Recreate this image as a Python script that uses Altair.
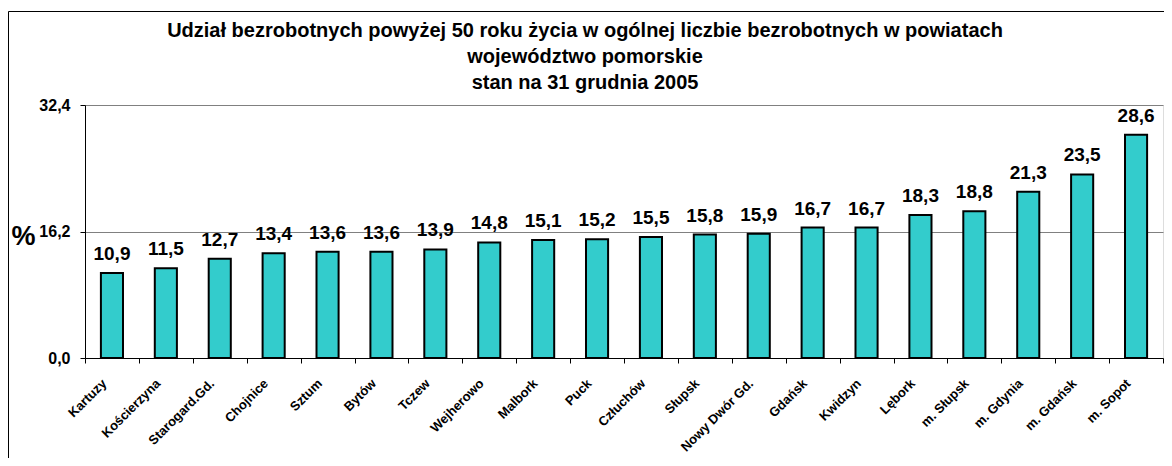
import altair as alt
import pandas as pd

categories = ["Kartuzy", "Kościerzyna", "Starogard.Gd.", "Chojnice", "Sztum", "Bytów",
              "Tczew", "Wejherowo", "Malbork", "Puck", "Człuchów", "Słupsk",
              "Nowy Dwór Gd.", "Gdańsk", "Kwidzyn", "Lębork", "m. Słupsk",
              "m. Gdynia", "m. Gdańsk", "m. Sopot"]
values = [10.9, 11.5, 12.7, 13.4, 13.6, 13.6, 13.9, 14.8, 15.1, 15.2, 15.5, 15.8,
          15.9, 16.7, 16.7, 18.3, 18.8, 21.3, 23.5, 28.6]
y_ticks = [0.0, 16.2, 32.4]
title_lines = ["Udział bezrobotnych powyżej 50 roku życia  w ogólnej liczbie bezrobotnych w  powiatach",
               "województwo pomorskie",
               "stan na 31 grudnia 2005"]

df = pd.DataFrame({"powiat": categories, "v": values})
FONT = "Liberation Sans"

x_enc = alt.X("powiat:N", sort=None, title=None,
              scale=alt.Scale(paddingInner=0, paddingOuter=0),
              axis=alt.Axis(labelAngle=-45, labelAlign="right", labelBaseline="middle",
                            labelFont=FONT, labelFontWeight="bold", labelFontSize=13,
                            labelColor="black", labelPadding=18, labelOffset=-8,
                            tickBand="extent", tickSize=5, tickColor="black",
                            domainColor="black", labelOverlap=False))
y_enc = alt.Y("v:Q", title="%",
              scale=alt.Scale(domain=[0, 32.4], nice=False, zero=True),
              axis=alt.Axis(values=y_ticks,
                            labelExpr="replace(format(datum.value, '.1f'), '.', ',')",
                            labelFont=FONT, labelFontWeight="bold", labelFontSize=16,
                            labelColor="black", labelPadding=10,
                            tickSize=5, tickColor="black", domainColor="black",
                            grid=True, gridColor="#808080", gridWidth=1,
                            titleAngle=0, titleFont=FONT, titleFontSize=27,
                            titleFontWeight="bold", titleColor="black",
                            titleX=-62, titleY=131, titleAlign="center",
                            titleBaseline="middle"))

bars = alt.Chart(df).mark_bar(
    fill="#33CCCC", stroke="black", strokeWidth=2,
    width=alt.RelativeBandSize(0.41)
).encode(x=x_enc, y=y_enc)

labels = alt.Chart(df).transform_calculate(
    lab="replace(format(datum.v, '.1f'), '.', ',')"
).mark_text(font=FONT, fontWeight="bold", fontSize=19, baseline="alphabetic",
            dy=-13, color="black").encode(
    x=alt.X("powiat:N", sort=None),
    y="v:Q",
    text="lab:N")

border = alt.Chart(pd.DataFrame({"a": [0]})).mark_rect(
    fillOpacity=0, stroke="black", strokeWidth=1, clip=False
).encode(x=alt.value(-76.5), x2=alt.value(1200), y=alt.value(-93.5), y2=alt.value(500))

chart = alt.layer(bars, labels, border).properties(
    width=1078, height=253,
    title=alt.TitleParams(text=title_lines, font=FONT, fontSize=20, fontWeight="bold",
                          color="black", anchor="middle", dx=-39, dy=92, lineHeight=26,
                          offset=10),
    autosize=alt.AutoSizeParams(type="none"),
    padding={"left": 77, "top": 97, "right": 1, "bottom": 100},
).configure_view(stroke="#808080", strokeWidth=1).configure(background="white")

chart.save("out.html", embed_options={"renderer": "svg", "actions": False})
